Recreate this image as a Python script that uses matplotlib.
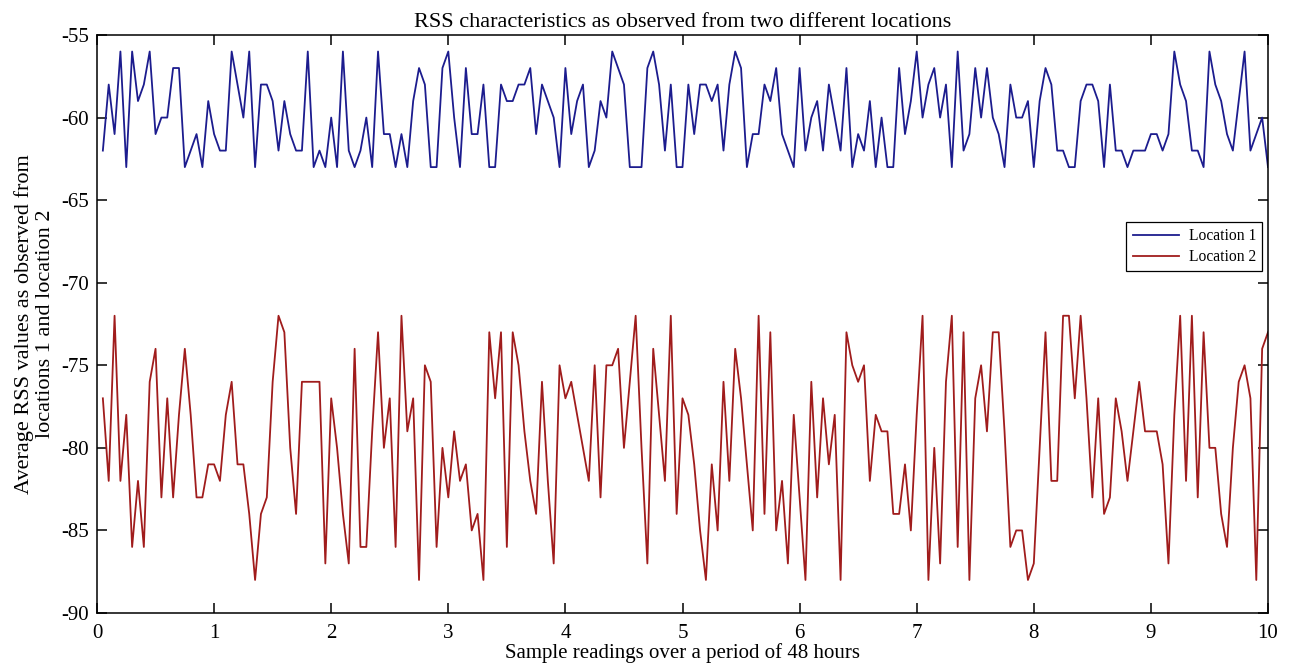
import numpy as np
import matplotlib
matplotlib.use("Agg")
import matplotlib.pyplot as plt

# RSS samples (dBm), one every 0.05 on the x axis
loc1 = [-62, -58, -61, -56, -63, -56, -59, -58, -56, -61,
        -60, -60, -57, -57, -63, -62, -61, -63, -59, -61,
        -62, -62, -56, -58, -60, -56, -63, -58, -58, -59,
        -62, -59, -61, -62, -62, -56, -63, -62, -63, -60,
        -63, -56, -62, -63, -62, -60, -63, -56, -61, -61,
        -63, -61, -63, -59, -57, -58, -63, -63, -57, -56,
        -60, -63, -57, -61, -61, -58, -63, -63, -58, -59,
        -59, -58, -58, -57, -61, -58, -59, -60, -63, -57,
        -61, -59, -58, -63, -62, -59, -60, -56, -57, -58,
        -63, -63, -63, -57, -56, -58, -62, -58, -63, -63,
        -58, -61, -58, -58, -59, -58, -62, -58, -56, -57,
        -63, -61, -61, -58, -59, -57, -61, -62, -63, -57,
        -62, -60, -59, -62, -58, -60, -62, -57, -63, -61,
        -62, -59, -63, -60, -63, -63, -57, -61, -59, -56,
        -60, -58, -57, -60, -58, -63, -56, -62, -61, -57,
        -60, -57, -60, -61, -63, -58, -60, -60, -59, -63,
        -59, -57, -58, -62, -62, -63, -63, -59, -58, -58,
        -59, -63, -58, -62, -62, -63, -62, -62, -62, -61,
        -61, -62, -61, -56, -58, -59, -62, -62, -63, -56,
        -58, -59, -61, -62, -59, -56, -62, -61, -60, -63]

loc2 = [-77, -82, -72, -82, -78, -86, -82, -86, -76, -74,
        -83, -77, -83, -78, -74, -78, -83, -83, -81, -81,
        -82, -78, -76, -81, -81, -84, -88, -84, -83, -76,
        -72, -73, -80, -84, -76, -76, -76, -76, -87, -77,
        -80, -84, -87, -74, -86, -86, -79, -73, -80, -77,
        -86, -72, -79, -77, -88, -75, -76, -86, -80, -83,
        -79, -82, -81, -85, -84, -88, -73, -77, -73, -86,
        -73, -75, -79, -82, -84, -76, -82, -87, -75, -77,
        -76, -78, -80, -82, -75, -83, -75, -75, -74, -80,
        -76, -72, -80, -87, -74, -78, -82, -72, -84, -77,
        -78, -81, -85, -88, -81, -85, -76, -82, -74, -77,
        -81, -85, -72, -84, -73, -85, -82, -87, -78, -83,
        -88, -76, -83, -77, -81, -78, -88, -73, -75, -76,
        -75, -82, -78, -79, -79, -84, -84, -81, -85, -78,
        -72, -88, -80, -87, -76, -72, -86, -73, -88, -77,
        -75, -79, -73, -73, -79, -86, -85, -85, -88, -87,
        -80, -73, -82, -82, -72, -72, -77, -72, -77, -83,
        -77, -84, -83, -77, -79, -82, -79, -76, -79, -79,
        -79, -81, -87, -78, -72, -82, -72, -83, -73, -80,
        -80, -84, -86, -80, -76, -75, -77, -88, -74, -73]

x = 0.05 * np.arange(1, len(loc1) + 1)

plt.rcParams['font.family'] = ['Liberation Serif', 'DejaVu Serif']
plt.rcParams['axes.unicode_minus'] = False

fig = plt.figure(figsize=(12.9, 6.67), dpi=100)
ax = fig.add_axes([97/1290, 1 - 613/667, 1171/1290, 578/667])

ax.plot(x, loc1, color='#1c1c8e', lw=1.3, label='Location 1')
ax.plot(x, loc2, color='#a01c1c', lw=1.3, label='Location 2')

ax.set_xlim(0, 10)
ax.set_ylim(-90, -55)
ax.set_xticks(range(0, 11))
ax.set_yticks(range(-90, -54, 5))
ax.tick_params(direction='in', top=True, right=True, labelsize=15, length=7, width=1.1)
ax.tick_params(axis='x', pad=8)
ax.tick_params(axis='y', pad=6)
for s in ax.spines.values():
    s.set_linewidth(1.1)

ax.set_title('RSS characteristics as observed from two different locations', fontsize=16, pad=6)
ax.set_xlabel('Sample readings over a period of 48 hours', fontsize=15, labelpad=0)
ax.set_ylabel('Average RSS values as observed from\nlocations 1 and location 2', fontsize=16,
              labelpad=4, linespacing=1.15)

leg = ax.legend(loc='upper right', bbox_to_anchor=(0.995, 0.676), fontsize=11.2,
                fancybox=False, edgecolor='black', framealpha=1, handlelength=3.0,
                borderpad=0.4, labelspacing=0.3, borderaxespad=0, handletextpad=0.6)
leg.get_frame().set_linewidth(0.9)

fig.savefig('out.png', dpi=100)
